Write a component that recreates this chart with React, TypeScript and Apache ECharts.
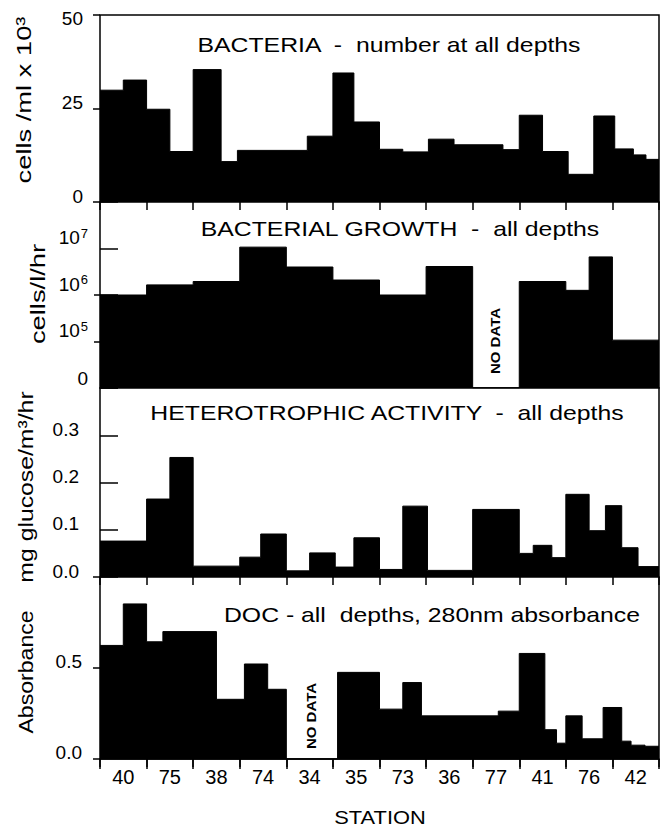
import React, { useEffect, useRef } from "react";
import * as echarts from "echarts";

// ---- data (x in station-interval units, 0..12) ----
const stations = ["40", "75", "38", "74", "34", "35", "73", "36", "77", "41", "76", "42"];

const bacteriaEdges = [0, 0.5, 1, 1.5, 2, 2.6, 2.95, 4.45, 5, 5.45, 6, 6.5, 7.05, 7.6, 8.65, 9, 9.5, 10.05, 10.6, 11.05, 11.45, 11.72, 12];
const bacteriaValues = [29.9, 32.6, 24.8, 13.5, 35.4, 10.8, 13.8, 17.6, 34.5, 21.4, 14.1, 13.4, 16.8, 15.3, 14.0, 23.2, 13.5, 7.4, 23.0, 14.2, 12.6, 11.4];

const growthEdges = [0, 1, 2, 3, 4, 5, 6, 7, 8, 9, 10, 10.5, 11, 12];
// 1e4 is the axis floor, labelled "0" (NO DATA gap at station 77)
const growthValues = [1.0e6, 1.65e6, 1.95e6, 1.07e7, 4.0e6, 2.1e6, 1.0e6, 4.1e6, 1e4, 1.95e6, 1.26e6, 6.6e6, 1.07e5];

const heteroEdges = [0, 1, 1.5, 2, 3, 3.45, 4, 4.5, 5.05, 5.45, 6, 6.5, 7.03, 8, 9, 9.3, 9.7, 10, 10.5, 10.85, 11.2, 11.55, 12];
const heteroValues = [0.076, 0.165, 0.253, 0.023, 0.042, 0.091, 0.013, 0.051, 0.021, 0.083, 0.016, 0.15, 0.014, 0.143, 0.05, 0.067, 0.041, 0.175, 0.098, 0.151, 0.062, 0.022];

const docEdges = [0, 0.5, 1, 1.35, 2.5, 3.1, 3.6, 4, 5.1, 6, 6.5, 6.9, 8.55, 9, 9.55, 9.8, 10, 10.35, 10.8, 11.2, 11.4, 11.7, 12];
const docValues = [0.624, 0.852, 0.644, 0.70, 0.328, 0.522, 0.383, 0, 0.476, 0.274, 0.42, 0.237, 0.263, 0.58, 0.161, 0.087, 0.237, 0.111, 0.283, 0.098, 0.076, 0.07];

const panelTitles = [
  "BACTERIA  -  number at all depths",
  "BACTERIAL GROWTH  -  all depths",
  "HETEROTROPHIC ACTIVITY  -  all depths",
  "DOC - all  depths, 280nm absorbance",
];
const yTitles = ["cells /ml x 10\u00b3", "cells/l/hr", "mg glucose/m\u00b3/hr", "Absorbance"];
const noDataText = "NO DATA";
const xTitle = "STATION";

// ---- layout ----
const FONT = "Liberation Sans";
const panels = [
  { top: 15, height: 187 },
  { top: 202, height: 186 },
  { top: 388, height: 189 },
  { top: 577, height: 182 },
];

function stepData(edges: number[], values: number[]) {
  const pts: number[][] = values.map((v, i) => [edges[i], v]);
  pts.push([edges[edges.length - 1], values[values.length - 1]]);
  return pts;
}

const black = "#000";

export default function App() {
  const ref = useRef<HTMLDivElement>(null);
  useEffect(() => {
    if (!ref.current) return;
    const chart = echarts.init(ref.current, undefined, { renderer: "svg" });

    const grids = panels.map((p) => ({
      left: 100,
      right: 8,
      top: p.top,
      height: p.height,
      show: true,
      borderColor: black,
      borderWidth: 1.5,
      backgroundColor: "#fff",
    }));

    const xAxes: any[] = panels.map((_, i) => ({
      type: "value",
      gridIndex: i,
      min: 0,
      max: 12,
      interval: 1,
      position: "top",
      axisLine: { show: false },
      axisTick: { show: i > 0, inside: true, length: 8, lineStyle: { color: black, width: 1.5 } },
      axisLabel: { show: false },
      splitLine: { show: false },
    }));
    xAxes.push({
      type: "category",
      gridIndex: 3,
      data: stations,
      position: "bottom",
      boundaryGap: true,
      axisLine: { show: true, lineStyle: { color: black, width: 1.5 } },
      axisTick: { show: true, inside: false, length: 10, interval: 0, alignWithLabel: false, lineStyle: { color: black, width: 1.5 } },
      axisLabel: { interval: 0, color: black, fontFamily: FONT, fontSize: 20, margin: 8 },
    });

    const lblBase = { color: black, fontFamily: FONT, fontSize: 19 };

    const yAxes: any[] = [
      {
        type: "value", gridIndex: 0, min: 0, max: 50, interval: 25,
        axisLine: { show: false },
        axisTick: { show: true, inside: false, length: 7, lineStyle: { color: black, width: 1.5 } },
        splitLine: { show: false },
        axisLabel: {
          ...lblBase, margin: 17, verticalAlign: "middle",
          formatter: (v: number) => (v === 50 ? `{d|${v}}` : `{u|${v}}`),
          rich: {
            u: { ...lblBase, lineHeight: 19, padding: [0, 0, 12, 0] },
            d: { ...lblBase, lineHeight: 19, padding: [6, 0, 0, 0] },
          },
        },
      },
      {
        type: "log", gridIndex: 1, logBase: 10, min: 1e4, max: 1e8,
        axisLine: { show: false },
        axisTick: { show: true, inside: true, length: 18, lineStyle: { color: black, width: 1.5 } },
        splitLine: { show: false }, minorTick: { show: false },
        axisLabel: {
          ...lblBase, margin: 12, verticalAlign: "bottom",
          formatter: (v: number) => {
            const n = Math.round(Math.log10(v));
            if (n <= 4) return "0";
            if (n >= 8) return "";
            return `10{sup|${n}}`;
          },
          rich: { sup: { color: black, fontFamily: FONT, fontSize: 13, padding: [0, 0, 9, 1] } },
        },
      },
      {
        type: "value", gridIndex: 2, min: 0, max: 0.4, interval: 0.1,
        axisLine: { show: false },
        axisTick: { show: true, inside: true, length: 18, lineStyle: { color: black, width: 1.5 } },
        splitLine: { show: false },
        axisLabel: {
          ...lblBase, margin: 21, verticalAlign: "bottom", lineHeight: 12,
          formatter: (v: number) => (v > 0.35 ? "" : v.toFixed(1)),
        },
      },
      {
        type: "value", gridIndex: 3, min: 0, max: 1, interval: 0.5,
        axisLine: { show: false },
        axisTick: { show: true, inside: false, length: 7, lineStyle: { color: black, width: 1.5 } },
        splitLine: { show: false },
        axisLabel: {
          ...lblBase, margin: 18, verticalAlign: "bottom", lineHeight: 14,
          formatter: (v: number) => (v > 0.9 ? "" : v.toFixed(1)),
        },
      },
      {
        type: "log", gridIndex: 1, logBase: 10, min: 1e4, max: 1e8, position: "left",
        axisLine: { show: false },
        axisTick: { show: true, inside: false, length: 6, customValues: [1e5, 1e6], lineStyle: { color: black, width: 1.5 } },
        axisLabel: { show: false }, splitLine: { show: false },
      },
    ];

    const datasets = [
      stepData(bacteriaEdges, bacteriaValues),
      stepData(growthEdges, growthValues),
      stepData(heteroEdges, heteroValues),
      stepData(docEdges, docValues),
    ];

    const series = datasets.map((d, i) => ({
      type: "line",
      xAxisIndex: i,
      yAxisIndex: i,
      data: d,
      step: "end",
      symbol: "none",
      silent: true,
      lineStyle: { color: black, width: 1 },
      areaStyle: { color: black, opacity: 1, origin: "start" },
      z: 3,
    }));

    const titlePos = [
      { x: 389, y: 45 },
      { x: 400, y: 229 },
      { x: 387, y: 413 },
      { x: 432, y: 615 },
    ];
    const yTitlePos = [
      { x: 24, y: 100, s: 1.3 },
      { x: 38, y: 294, s: 1.3 },
      { x: 26, y: 487, s: 1.18 },
      { x: 26, y: 672, s: 1.1 },
    ];

    const graphic: any[] = [];
    panelTitles.forEach((t, i) => {
      graphic.push({
        type: "text", x: titlePos[i].x, y: titlePos[i].y, scaleX: 1.24, z: 10,
        style: { text: t, fill: black, fontFamily: FONT, fontSize: 20, align: "center", verticalAlign: "middle" },
      });
    });
    yTitles.forEach((t, i) => {
      graphic.push({
        type: "text", x: yTitlePos[i].x, y: yTitlePos[i].y, rotation: Math.PI / 2, scaleX: yTitlePos[i].s, z: 10,
        style: { text: t, fill: black, fontFamily: FONT, fontSize: 21, align: "center", verticalAlign: "middle" },
      });
    });
    [{ x: 496, y: 341 }, { x: 312, y: 716 }].forEach((p) => {
      graphic.push({
        type: "text", x: p.x, y: p.y, rotation: Math.PI / 2, scaleX: 1.25, z: 10,
        style: { text: noDataText, fill: black, fontFamily: FONT, fontWeight: "bold", fontSize: 12, align: "center", verticalAlign: "middle" },
      });
    });
    graphic.push({
      type: "text", x: 380, y: 817, scaleX: 1.15, z: 10,
      style: { text: xTitle, fill: black, fontFamily: FONT, fontSize: 19, align: "center", verticalAlign: "middle" },
    });

    chart.setOption({
      animation: false,
      backgroundColor: "#fff",
      grid: grids,
      xAxis: xAxes,
      yAxis: yAxes,
      series,
      graphic,
    });
    return () => chart.dispose();
  }, []);

  return (
    <div
      ref={ref}
      style={{ position: "absolute", left: 0, top: 0, width: 667, height: 829, background: "#fff" }}
    />
  );
}
